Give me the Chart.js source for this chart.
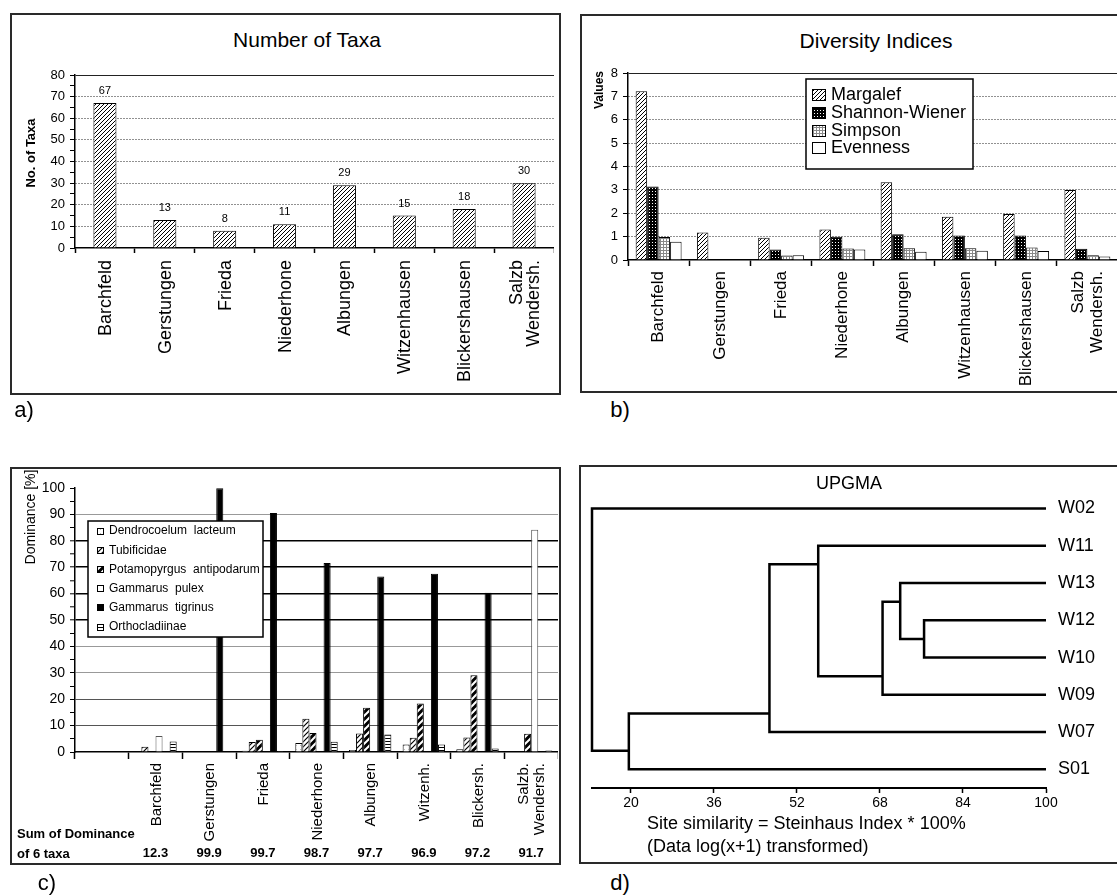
<!DOCTYPE html>
<html lang="en"><head><meta charset="utf-8"><title>Figure</title>
<script src="https://cdn.jsdelivr.net/npm/chart.js@4.4.1/dist/chart.umd.min.js"></script>
<style>
html,body{margin:0;padding:0;background:#fff}
body{position:relative;width:1117px;height:896px;overflow:hidden;font-family:"Liberation Sans",Arial,Helvetica,sans-serif;color:#000}
.frame{position:absolute;box-sizing:border-box;border:2px solid #2a2a2a;overflow:hidden}
.frame canvas{position:absolute}
.t{position:absolute;white-space:nowrap;line-height:1;z-index:5}
</style></head><body>
<script>
// ---------------- DATA ----------------
const sitesA = ['Barchfeld','Gerstungen','Frieda','Niederhone','Albungen','Witzenhausen','Blickershausen',['Salzb','Wendersh.']];
const taxaCount = [67,13,8,11,29,15,18,30];

const margalef = [7.22,1.18,0.95,1.31,3.33,1.85,1.97,2.99];
const shannon  = [3.14,0.02,0.45,1.0,1.1,1.05,1.05,0.48];
const simpson  = [0.98,0,0.19,0.49,0.5,0.5,0.54,0.2];
const evenness = [0.78,0,0.2,0.45,0.35,0.4,0.38,0.15];
const diversityNames = ['Margalef','Shannon-Wiener','Simpson','Evenness'];

const sitesC = ['','Barchfeld','Gerstungen','Frieda','Niederhone','Albungen','Witzenh.','Blickersh.',['Salzb.','Wendersh.']];
const taxaNames = ['Dendrocoelum  lacteum','Tubificidae','Potamopyrgus  antipodarum','Gammarus  pulex','Gammarus  tigrinus','Orthocladiinae'];
const dendrocoelum = [0,0.2,0,0.5,3.4,0.8,2.8,1.0,0];
const tubificidae  = [0,2.0,0,3.8,12.6,7.0,5.4,5.5,0];
const potamopyrgus = [0,0,0,4.6,7.2,16.8,18.4,29.1,6.9];
const gammarusPulex = [0,6.1,0,0,0,0,0,0,84.2];
const gammarusTigrinus = [0,0,99.9,90.5,71.6,66.5,67.5,60.3,0];
const orthocladiinae = [0,4.0,0,0.3,3.9,6.6,2.8,1.3,0.6];
const sumDominance = ['','12.3','99.9','99.7','98.7','97.7','96.9','97.2','91.7'];

const leafNames = ['W02','W11','W13','W12','W10','W09','W07','S01'];
const clusterNames = ['n1','n2','n3','n4','n5','n6','n7'];
const clusterA = ['W12','W13','n2','W11','n4','n5','W02'];
const clusterB = ['W10','n1','W09','n3','W07','S01','n6'];
const clusterSim = [76.5,71.9,68.5,56.1,46.7,19.6,12.5];
const clusterY = [3.5,2.5,4.5,1.5,5.5,6.5,3.25];
const simTicks = [20,36,52,68,84,100];

// ---------------- HELPERS ----------------
const FAM = '"Liberation Sans", Arial, Helvetica, sans-serif';
Chart.defaults.font.family = FAM;
Chart.defaults.color = '#000';

function frame(l,t,r,b){
  const d=document.createElement('div'); d.className='frame';
  Object.assign(d.style,{left:l+'px',top:t+'px',width:(r-l)+'px',height:(b-t)+'px'});
  document.body.appendChild(d); d._l=l+2; d._t=t+2; return d;
}
function canvasIn(fr,l,t,w,h){
  const c=document.createElement('canvas'); c.width=w; c.height=h;
  Object.assign(c.style,{left:(l-fr._l)+'px',top:(t-fr._t)+'px',width:w+'px',height:h+'px'});
  fr.appendChild(c); return c;
}
function txt(s,x,y,o){
  o=o||{};
  const d=document.createElement('div'); d.className='t'; d.textContent=s;
  d.style.left=x+'px'; d.style.top=y+'px'; d.style.fontSize=(o.size||14)+'px';
  d.style.fontWeight=o.bold?'bold':'normal';
  d.style.transform=(o.left?'translate(0,-50%)':'translate(-50%,-50%)')+(o.rot?' rotate(-90deg)':'');
  document.body.appendChild(d);
}
function pat(w,h,draw){
  const c=document.createElement('canvas'); c.width=w; c.height=h;
  const g=c.getContext('2d'); draw(g,w,h); return g.createPattern(c,'repeat');
}
function diag(g,s,color,lw){ g.strokeStyle=color; g.lineWidth=lw; g.beginPath();
  [0,s,2*s].forEach(k=>{g.moveTo(-1,k+1); g.lineTo(k+1,-1);}); g.stroke(); }

const P = {
  hatch: pat(4,4,(g)=>{g.fillStyle='#fff';g.fillRect(0,0,4,4);diag(g,4,'#000',1);}),
  check: pat(3,3,(g)=>{g.fillStyle='#000';g.fillRect(0,0,3,3);g.fillStyle='#fff';g.fillRect(1,1,1,1);}),
  dots:  pat(3,3,(g)=>{g.fillStyle='#fff';g.fillRect(0,0,3,3);g.fillStyle='#8a8a8a';g.fillRect(0,0,3,1);g.fillRect(0,0,1,3);}),
  tubi:  pat(5,5,(g)=>{g.fillStyle='#fff';g.fillRect(0,0,5,5);diag(g,5,'#000',1.2);}),
  pota:  pat(7,7,(g)=>{g.fillStyle='#000';g.fillRect(0,0,7,7);diag(g,7,'#fff',2);}),
  ortho: pat(2,3,(g)=>{g.fillStyle='#fff';g.fillRect(0,0,2,3);g.fillStyle='#000';g.fillRect(0,1,2,1);}),
  dendro: pat(4,4,(g)=>{g.fillStyle='#fff';g.fillRect(0,0,4,4);g.fillStyle='#bbb';g.fillRect(0,0,1,1);})
};

// ---------------- PLUGINS ----------------
const rotLabels = { id:'rotLabels', afterDraw(chart,args,o){
  const ctx=chart.ctx, xs=chart.scales.x, y0=chart.chartArea.bottom+o.offset;
  ctx.save(); ctx.font=o.font; ctx.fillStyle='#000'; ctx.textAlign='right'; ctx.textBaseline='middle';
  chart.data.labels.forEach((lab,i)=>{
    const lines=Array.isArray(lab)?lab:[lab];
    const cx=xs.getPixelForValue(i);
    lines.forEach((ln,j)=>{
      const x=cx+(j-(lines.length-1)/2)*o.lineHeight+(o.dx||0);
      ctx.save(); ctx.translate(x,y0); ctx.rotate(-Math.PI/2); ctx.fillText(ln,0,0); ctx.restore();
    });
  });
  ctx.restore();
}};
const valLabels = { id:'valLabels', afterDatasetsDraw(chart,args,o){
  const ctx=chart.ctx, meta=chart.getDatasetMeta(0), ds=chart.data.datasets[0];
  ctx.save(); ctx.font=o.font; ctx.fillStyle='#000'; ctx.textAlign='center'; ctx.textBaseline='middle';
  meta.data.forEach((el,i)=>{ ctx.fillText(String(ds.data[i]), el.x, el.y-o.gap); });
  ctx.restore();
}};
const boxLegend = { id:'boxLegend', afterDraw(chart,args,o){
  const ctx=chart.ctx;
  ctx.save();
  ctx.fillStyle='#fff'; ctx.fillRect(o.x,o.y,o.w,o.h);
  ctx.strokeStyle='#000'; ctx.lineWidth=o.lw; ctx.strokeRect(o.x,o.y,o.w,o.h);
  ctx.font=o.font; ctx.textBaseline='middle'; ctx.textAlign='left';
  chart.data.datasets.forEach((ds,i)=>{
    const cy=o.y+o.first+i*o.step;
    ctx.fillStyle=ds.backgroundColor; ctx.fillRect(o.sx,Math.round(cy-o.sh/2),o.sw,o.sh);
    ctx.lineWidth=1; ctx.strokeStyle='#000'; ctx.strokeRect(o.sx+0.5,Math.round(cy-o.sh/2)+0.5,o.sw-1,o.sh-1);
    ctx.fillStyle='#000'; ctx.fillText(ds.label,o.tx,cy);
  });
  ctx.restore();
}};
const sumRow = { id:'sumRow', afterDraw(chart,args,o){
  const ctx=chart.ctx, xs=chart.scales.x, y=chart.chartArea.bottom+o.offset;
  ctx.save(); ctx.font=o.font; ctx.fillStyle='#000'; ctx.textAlign='center'; ctx.textBaseline='middle';
  sumDominance.forEach((s,i)=>{ if(s) ctx.fillText(s, xs.getPixelForValue(i), y); });
  ctx.restore();
}};

const base = { responsive:false, animation:false, devicePixelRatio:1, events:[] };
const noPl = { legend:{display:false}, tooltip:{enabled:false}, title:{display:false} };

// ---------------- FRAMES ----------------
const frA = frame(10,13,561,395);
const frB = frame(580,14,1126,393);
const frC = frame(10,467,561,865);
const frD = frame(579,465,1126,864);

// ---------------- CHART A ----------------
new Chart(canvasIn(frA,12,60,542,333),{
  type:'bar',
  data:{labels:sitesA, datasets:[{label:'No. of Taxa', data:taxaCount, backgroundColor:P.hatch, borderColor:'#000', borderWidth:1, barPercentage:0.385, categoryPercentage:1}]},
  options:Object.assign({},base,{
    layout:{padding:{top:15,left:0,right:0,bottom:0}, autoPadding:false},
    plugins:Object.assign({},noPl,{rotLabels:{font:`18px ${FAM}`, offset:12, lineHeight:17, dx:1}, valLabels:{font:`11px ${FAM}`, gap:12}}),
    scales:{
      x:{offset:true, grid:{offset:true, drawOnChartArea:false, drawTicks:true, tickLength:5, tickColor:'#000', tickWidth:1.5}, border:{color:'#000',width:1.5}, ticks:{display:false}, afterFit:s=>{s.height=145;}},
      y:{min:0,max:80, ticks:{stepSize:5, autoSkip:false, callback:v=>v%10===0?String(v):'', font:{size:13}, color:'#000', padding:5},
         grid:{color:c=>(c.tick&&c.tick.value>0&&c.tick.value%10===0)?'#222':'rgba(0,0,0,0)', lineWidth:1, tickColor:'#000', tickLength:5, tickWidth:1},
         border:{color:'#000',width:1.5, dash:c=>(c.tick&&c.tick.value<80)?[1,2]:[]},
         afterFit:s=>{s.width=63;}}
    }
  }),
  plugins:[rotLabels,valLabels]
});

// ---------------- CHART B ----------------
const seriesB = [margalef,shannon,simpson,evenness];
const fillB = [P.hatch,P.check,P.dots,'#fff'];
new Chart(canvasIn(frB,582,58,536,333),{
  type:'bar',
  data:{labels:sitesA, datasets:seriesB.map((d,i)=>({label:diversityNames[i], data:d, backgroundColor:fillB[i], borderColor:'#000', borderWidth:1, barPercentage:1, categoryPercentage:0.75}))},
  options:Object.assign({},base,{
    layout:{padding:{top:15,left:0,right:0,bottom:0}, autoPadding:false},
    plugins:Object.assign({},noPl,{
      rotLabels:{font:`17px ${FAM}`, offset:11, lineHeight:19, dx:0},
      boxLegend:{x:224,y:21,w:167,h:90,lw:1.5,first:16,step:17.8,sx:230,sw:14,sh:12,tx:249,font:`18px ${FAM}`}}),
    scales:{
      x:{offset:true, grid:{offset:true, drawOnChartArea:false, drawTicks:true, tickLength:6, tickColor:'#000', tickWidth:1.5}, border:{color:'#000',width:1.5}, ticks:{display:false}, afterFit:s=>{s.height=131;}},
      y:{min:0,max:8, ticks:{stepSize:1, autoSkip:false, font:{size:13}, color:'#000', padding:5},
         grid:{color:c=>(c.tick&&c.tick.value>0)?'#222':'rgba(0,0,0,0)', lineWidth:1, tickColor:'#000', tickLength:5, tickWidth:1},
         border:{color:'#000',width:1.5, dash:c=>(c.tick&&c.tick.value<8)?[1,2]:[]},
         afterFit:s=>{s.width=46;}}
    }
  }),
  plugins:[rotLabels,boxLegend]
});

// ---------------- CHART C ----------------
const seriesC = [dendrocoelum,tubificidae,potamopyrgus,gammarusPulex,gammarusTigrinus,orthocladiinae];
const fillC = [P.dendro,P.tubi,P.pota,'#fff','#000',P.ortho];
new Chart(canvasIn(frC,12,473,546,390),{
  type:'bar',
  data:{labels:sitesC, datasets:seriesC.map((d,i)=>({label:taxaNames[i], data:d, backgroundColor:fillC[i], borderColor:i===3?'#555':'#000', borderWidth:1, barPercentage:1, categoryPercentage:0.79}))},
  options:Object.assign({},base,{
    layout:{padding:{top:15,left:0,right:0,bottom:0}, autoPadding:false},
    plugins:Object.assign({},noPl,{
      rotLabels:{font:`15px ${FAM}`, offset:11, lineHeight:16, dx:1},
      sumRow:{font:`bold 13px ${FAM}`, offset:101},
      boxLegend:{x:76,y:48,w:175,h:116,lw:1.5,first:10,step:19.2,sx:85,sw:7,sh:7,tx:97,font:`12px ${FAM}`}}),
    scales:{
      x:{offset:true, grid:{offset:true, drawOnChartArea:false, drawTicks:true, tickLength:7, tickColor:'#000', tickWidth:1.5}, border:{color:'#000',width:1.5}, ticks:{display:false}, afterFit:s=>{s.height=111;}},
      y:{min:0,max:100, ticks:{stepSize:5, autoSkip:false, callback:v=>v%10===0?String(v):'', font:{size:14}, color:'#000', padding:5},
         grid:{color:c=>{const v=c.tick?c.tick.value:0; if(v%10!==0||v===0||v===100) return 'rgba(0,0,0,0)'; return (v>=50&&v<=80)?'#000':(v<=20?'#555':'#999');},
               lineWidth:c=>{const v=c.tick?c.tick.value:0; return (v>=50&&v<=80)?1.6:1;}, tickColor:'#000', tickLength:5, tickWidth:1},
         border:{color:'#000',width:1.5},
         afterFit:s=>{s.width=63;}}
    }
  }),
  plugins:[rotLabels,sumRow,boxLegend]
});

// ---------------- CHART D (dendrogram) ----------------
function nodePos(name){
  const li=leafNames.indexOf(name);
  if(li>=0) return {x:100,y:li};
  const k=clusterNames.indexOf(name);
  return {x:clusterSim[k], y:clusterY[k]};
}
const dendroSets = clusterNames.map((nm,k)=>{
  const a=nodePos(clusterA[k]), b=nodePos(clusterB[k]), s=clusterSim[k];
  return {label:nm, data:[{x:a.x,y:a.y},{x:s,y:a.y},{x:s,y:b.y},{x:b.x,y:b.y}],
    borderColor:'#000', borderWidth:2.5, pointRadius:0, tension:0, fill:false, clip:false,
    borderJoinStyle:'miter', borderCapStyle:'butt'};
});
new Chart(canvasIn(frD,581,467,530,395),{
  type:'line',
  data:{datasets:dendroSets},
  options:Object.assign({},base,{
    layout:{padding:{top:12,left:11,right:0,bottom:0}, autoPadding:false},
    plugins:noPl,
    scales:{
      x:{type:'linear', min:12.5, max:100, afterBuildTicks:s=>{s.ticks=simTicks.map(v=>({value:v}));},
         ticks:{font:{size:14}, color:'#000', padding:2, maxRotation:0},
         grid:{display:true, drawOnChartArea:false, drawTicks:true, tickLength:5, tickColor:'#000', tickWidth:1.5},
         border:{color:'#000',width:2}, afterFit:s=>{s.height=74;}},
      y:{type:'linear', position:'right', reverse:true, min:-0.5, max:7.5,
         afterBuildTicks:s=>{s.ticks=leafNames.map((_,i)=>({value:i}));},
         ticks:{callback:v=>leafNames[Math.round(v)], font:{size:18}, color:'#000', padding:12, autoSkip:false},
         grid:{display:false, drawTicks:false}, border:{display:false}, afterFit:s=>{s.width=65;}}
    }
  })
});

// ---------------- TEXTS ----------------
txt('Number of Taxa',307,39,{size:21});
txt('No. of Taxa',30,153,{size:13,bold:true,rot:true});
txt('Diversity Indices',876,40,{size:21});
txt('Values',599,90,{size:12,bold:true,rot:true});
txt('Dominance [%]',30,517,{size:14,rot:true});
txt('Sum of Dominance',17,833,{size:13,bold:true,left:true});
txt('of 6 taxa',17,853,{size:13,bold:true,left:true});
txt('UPGMA',849,483,{size:18});
txt('Site similarity = Steinhaus Index * 100%',647,823,{size:18,left:true});
txt('(Data log(x+1) transformed)',647,846,{size:18,left:true});
txt('a)',24,410,{size:22});
txt('b)',620,410,{size:22});
txt('c)',47,883,{size:22});
txt('d)',620,883,{size:22});
</script>
</body></html>
